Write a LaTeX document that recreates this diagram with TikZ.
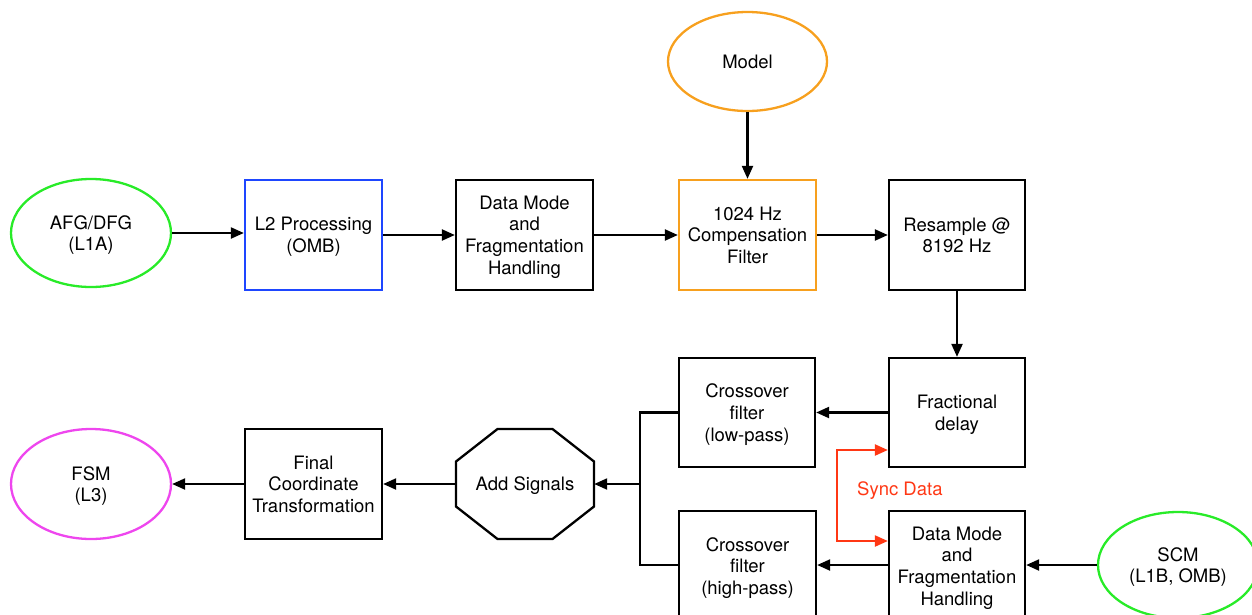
\documentclass[tikz,border=0pt]{standalone}
\usepackage{fontspec}
\setmainfont{TeX Gyre Heros}
\usetikzlibrary{arrows.meta,shapes.geometric,calc}
\definecolor{cgreen}{RGB}{40,235,40}
\definecolor{cblue}{RGB}{30,70,255}
\definecolor{corange}{RGB}{247,160,30}
\definecolor{cmag}{RGB}{238,70,238}
\definecolor{cred}{RGB}{255,55,20}
\tikzset{
  every node/.style={font=\fontsize{18.5}{21.7}\selectfont, align=center, inner sep=0pt, text depth=0pt},
  box/.style={draw, line width=2.3pt, rectangle, minimum width=137pt, minimum height=110pt},
  oval/.style={draw, line width=2.3pt, ellipse, minimum width=160pt, minimum height=108pt},
  arr/.style={line width=2.2pt, -{Triangle[length=13pt,width=11pt]}},
  conn/.style={line width=2.2pt},
  syncarr/.style={line width=2.2pt, cred, {Triangle[length=13pt,width=11pt]}-{Triangle[length=13pt,width=11pt]}}
}
\begin{document}
\begin{tikzpicture}[x=1pt,y=-1pt]
\useasboundingbox (0,0) rectangle (1252,614);
\clip (0,0) rectangle (1252,614);
% top row
\node[oval, cgreen, text=black] (afg) at (91,233) {AFG/DFG\\(L1A)};
\node[box, cblue, text=black] (l2) at (313.5,235) {L2 Processing\\(OMB)};
\node[box] (dm1) at (524.5,235) {Data Mode\\and\\Fragmentation\\Handling};
\node[box, corange, text=black] (comp) at (747.5,235) {1024 Hz\\Compensation\\Filter};
\node[box, minimum width=136pt] (res) at (957,235) {Resample @\\8192 Hz};
\node[oval, corange, text=black, minimum width=159pt, minimum height=99pt] (model) at (747.5,61.5) {Model};
% middle / bottom
\node[box, minimum width=136pt, minimum height=109pt] (frac) at (957,412.5) {Fractional\\delay};
\node[box, minimum width=136pt, minimum height=109pt] (xlow) at (747,412.5) {Crossover\\filter\\(low-pass)};
\node[box] (xhigh) at (747.5,566) {Crossover\\filter\\(high-pass)};
\node[box, minimum width=136pt] (dm2) at (957,566) {Data Mode\\and\\Fragmentation\\Handling};
\node[oval, cgreen, text=black, minimum height=106pt] (scm) at (1178,565) {SCM\\(L1B, OMB)};
\node[minimum width=138pt, minimum height=110pt] (add) at (525,484) {Add Signals};
\draw[line width=2.3pt, shift={(add.center)}]
  (-27.5,-55) -- (27.5,-55) -- (69,-22.5) -- (69,22.5) -- (27.5,55) -- (-27.5,55) -- (-69,22.5) -- (-69,-22.5) -- cycle;
\node[box] (fin) at (313.5,484) {Final\\Coordinate\\Transformation};
\node[oval, cmag, text=black, minimum height=110pt] (fsm) at (91,484) {FSM\\(L3)};
% connectors
\draw[arr] (afg.east) -- (l2.west |- afg.east);
\draw[arr] (l2) -- (dm1);
\draw[arr] (dm1) -- (comp);
\draw[arr] (comp) -- (res);
\draw[arr] (model) -- (comp);
\draw[arr] (res) -- (frac);
\draw[arr] (frac) -- (xlow);
\draw[arr] (dm2.west |- scm.west) -- (xhigh.east |- scm.west);
\draw[arr] (scm.west) -- (dm2.east |- scm.west);
\coordinate (j) at (640,484);
\draw[conn] (xlow.west) -| (j) |- (xhigh.west |- scm.west);
\draw[arr] (j) -- (add.east);
\draw[arr] (add) -- (fin);
\draw[arr] (fin) -- (fsm);
\draw[syncarr] ([yshift=-37.5pt]frac.west) -- ++(-51,0) |- ([yshift=25pt]dm2.west);
\node[text=cred, anchor=west] (sync) at (857,489) {Sync Data};
\end{tikzpicture}
\end{document}
